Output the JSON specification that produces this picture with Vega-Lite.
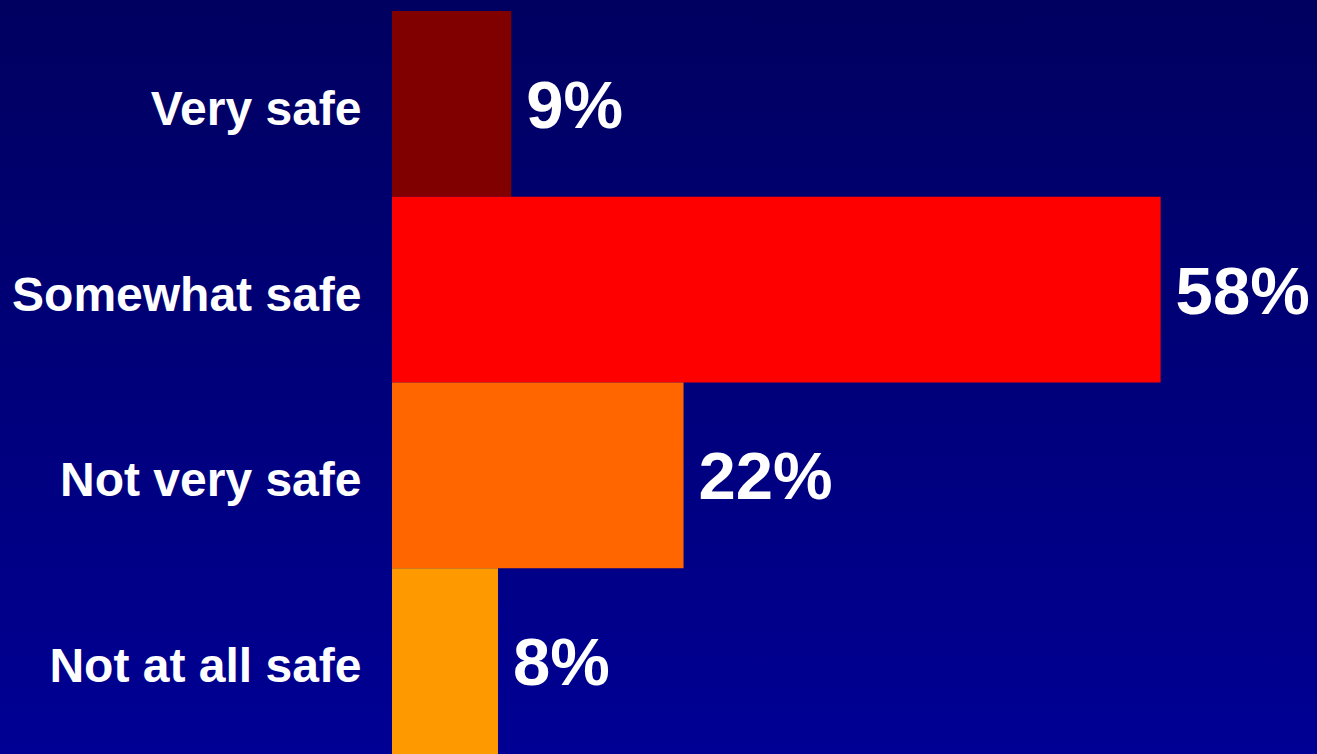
{
  "$schema": "https://vega.github.io/schema/vega-lite/v6.json",
  "width": 1317,
  "height": 754,
  "autosize": "none",
  "padding": 0,
  "background": "#00007a",
  "config": {
    "view": {
      "stroke": null,
      "fill": {
        "gradient": "linear",
        "x1": 0, "y1": 0, "x2": 0, "y2": 1,
        "stops": [
          {"offset": 0, "color": "#000060"},
          {"offset": 1, "color": "#000094"}
        ]
      }
    }
  },
  "data": {
    "values": [
      {"cat": "Very safe", "pct": 9, "label": "9%"},
      {"cat": "Somewhat safe", "pct": 58, "label": "58%"},
      {"cat": "Not very safe", "pct": 22, "label": "22%"},
      {"cat": "Not at all safe", "pct": 8, "label": "8%"}
    ]
  },
  "encoding": {
    "y": {
      "field": "cat",
      "type": "nominal",
      "sort": null,
      "scale": {"range": [11, 754], "paddingInner": 0, "paddingOuter": 0},
      "axis": {
        "title": null,
        "orient": "left",
        "offset": -361,
        "ticks": false,
        "domain": false,
        "labelPadding": 0,
        "labelOffset": 7,
        "labelFont": "Liberation Sans",
        "labelFontWeight": "bold",
        "labelFontSize": 48,
        "labelColor": "white",
        "labelLimit": 0
      }
    },
    "x": {
      "field": "pct",
      "type": "quantitative",
      "scale": {"domain": [0, 69.8], "range": [392, 1317]},
      "axis": null
    }
  },
  "layer": [
    {
      "mark": {"type": "bar"},
      "encoding": {
        "color": {
          "field": "cat",
          "type": "nominal",
          "sort": null,
          "scale": {
            "domain": ["Very safe", "Somewhat safe", "Not very safe", "Not at all safe"],
            "range": ["#800000", "#ff0000", "#ff6600", "#ff9900"]
          },
          "legend": null
        }
      }
    },
    {
      "mark": {
        "type": "text",
        "align": "left",
        "baseline": "middle",
        "dx": 15,
        "dy": 4,
        "font": "Liberation Sans",
        "fontWeight": "bold",
        "fontSize": 67,
        "color": "white"
      },
      "encoding": {"text": {"field": "label"}}
    }
  ]
}
